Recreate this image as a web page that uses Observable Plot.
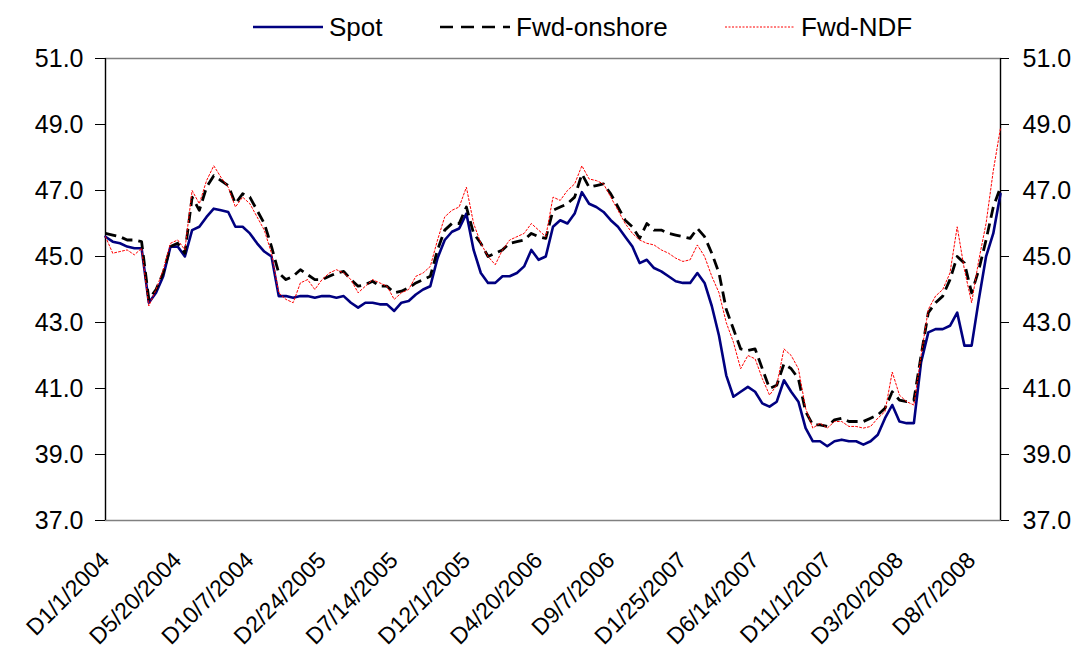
<!DOCTYPE html>
<html>
<head>
<meta charset="utf-8">
<script src="https://cdn.jsdelivr.net/npm/d3@7"></script>
<script src="https://cdn.jsdelivr.net/npm/@observablehq/plot@0.6"></script>
<style>
  body { margin: 0; background: #fff; font-family: "Liberation Sans", Arial, sans-serif; }
  #wrap { position: relative; width: 1080px; height: 659px; }
  #legend { position: relative; height: 40px; font-size: 26px; color: #000; }
  .item { position: absolute; top: 13px; display: flex; align-items: center; gap: 6px; line-height: 28px; }
  .item svg { display: block; }
</style>
</head>
<body>
<div id="wrap">
  <div id="legend"></div>
  <div id="chart"></div>
</div>
<script>
// ---- data (biweekly samples, starting 1 Jan 2004) ----
const startDate = "2004-01-01";
const stepDays = 14;

const spot = [
  45.6, 45.45, 45.4, 45.3, 45.25, 45.25, 43.6, 43.9, 44.4, 45.3,
  45.3, 45.0, 45.8, 45.9, 46.2, 46.45, 46.4, 46.35, 45.9, 45.9,
  45.7, 45.4, 45.15, 45.0, 43.8, 43.8, 43.75, 43.8, 43.8, 43.75,
  43.8, 43.8, 43.75, 43.8, 43.6, 43.45, 43.6, 43.6, 43.55, 43.55,
  43.35, 43.6, 43.65, 43.85, 44.0, 44.1, 44.95, 45.5, 45.75, 45.85,
  46.3, 45.2, 44.5, 44.2, 44.2, 44.4, 44.4, 44.5, 44.7, 45.2,
  44.9, 45.0, 45.9, 46.1, 46.0, 46.3, 46.95, 46.6, 46.5, 46.35,
  46.1, 45.9, 45.6, 45.3, 44.8, 44.9, 44.65, 44.55, 44.4, 44.25,
  44.2, 44.2, 44.5, 44.2, 43.5, 42.6, 41.4, 40.75, 40.9, 41.05,
  40.9, 40.55, 40.45, 40.6, 41.25, 40.9, 40.6, 39.8, 39.4, 39.4,
  39.25, 39.4, 39.45, 39.4, 39.4, 39.3, 39.4, 39.6, 40.1, 40.5,
  40.0, 39.95, 39.95, 41.8, 42.7, 42.8, 42.8, 42.9, 43.3, 42.3,
  42.3, 43.7, 45.0, 45.7, 46.9
];

const fwdOnshore = [
  45.7, 45.65, 45.6, 45.5, 45.5, 45.45, 43.7, 44.0, 44.5, 45.3,
  45.4, 45.1, 46.8, 46.4, 47.1, 47.45, 47.3, 47.15, 46.6, 46.9,
  46.8, 46.4, 46.0, 45.3, 44.5, 44.3, 44.4, 44.6, 44.45, 44.3,
  44.3, 44.4, 44.5, 44.55, 44.3, 44.1, 44.15, 44.25, 44.1, 44.1,
  43.9, 43.95, 44.05, 44.2, 44.3, 44.4, 45.2, 45.8, 46.0, 46.0,
  46.5, 45.7, 45.4, 45.0, 45.1, 45.2, 45.4, 45.45, 45.5, 45.7,
  45.6, 45.55, 46.4, 46.5, 46.6, 46.8, 47.5, 47.1, 47.15, 47.2,
  46.9, 46.5, 46.1, 45.9, 45.55, 46.0, 45.8, 45.8, 45.7, 45.65,
  45.6, 45.55, 45.85, 45.6, 45.1, 44.5, 43.4, 42.8, 42.2, 42.15,
  42.2, 41.6, 41.0, 41.1, 41.75, 41.6, 41.3, 40.3, 39.9, 39.9,
  39.85, 40.05, 40.1, 40.0, 40.0, 40.0, 40.1, 40.2, 40.4, 40.9,
  40.65, 40.6, 40.65, 42.0, 43.3, 43.6, 43.8, 44.3, 45.0, 44.8,
  43.9, 44.6, 45.5, 46.5, 47.1
];

const fwdNDF = [
  45.6, 45.1, 45.15, 45.2, 45.05, 45.25, 43.5, 44.0, 44.6, 45.4,
  45.5, 45.2, 47.0, 46.6, 47.3, 47.75, 47.4, 47.1, 46.5, 46.8,
  46.6, 46.2, 45.8, 45.1, 43.9, 43.7, 43.6, 44.2, 44.3, 44.0,
  44.3, 44.5, 44.6, 44.5, 44.3, 43.9, 44.1, 44.3, 44.2, 44.1,
  43.7, 43.9, 44.0, 44.4, 44.5, 44.7, 45.5, 46.2, 46.4, 46.5,
  47.1, 46.0, 45.4, 45.0, 44.75, 45.2, 45.5, 45.6, 45.7, 46.0,
  45.8, 45.6, 46.8, 46.7, 47.0, 47.2, 47.75, 47.35, 47.3, 47.2,
  46.8, 46.4, 46.0, 45.7, 45.5, 45.4, 45.35, 45.2, 45.1, 44.95,
  44.85, 44.9, 45.35, 45.0, 44.4, 43.9, 43.0, 42.4, 41.6, 42.0,
  41.9, 41.3, 40.8, 41.1, 42.2, 42.0, 41.6, 40.4, 39.8, 39.95,
  39.8, 40.0, 40.0, 39.85, 39.85, 39.8, 39.85, 40.1, 40.3, 41.5,
  40.8, 40.6, 40.5, 42.0, 43.4, 43.8, 44.0, 44.5, 45.9, 44.6,
  43.6, 44.9, 46.0, 47.6, 48.9
];

const seriesNames = ["Spot", "Fwd-onshore", "Fwd-NDF"];
const seriesColors = ["#000080", "#000000", "#ff0000"];
const seriesWidths = [2.6, 2.8, 1];
const seriesDash = [null, "11,6", "2,2"];

const tickLabels = [
  "D1/1/2004", "D5/20/2004", "D10/7/2004", "D2/24/2005", "D7/14/2005",
  "D12/1/2005", "D4/20/2006", "D9/7/2006", "D1/25/2007", "D6/14/2007",
  "D11/1/2007", "D3/20/2008", "D8/7/2008"
];
const yTicks = [37, 39, 41, 43, 45, 47, 49, 51];

// ---- build tables ----
const start = d3.utcParse("%Y-%m-%d")(startDate);
const dates = spot.map((_, i) => d3.utcDay.offset(start, stepDays * i));
const allSeries = [spot, fwdOnshore, fwdNDF];
const rows = allSeries.map((vals, s) => vals.map((v, i) => ({date: dates[i], value: v, series: seriesNames[s]})));

const parseTick = d3.utcParse("D%m/%d/%Y");
const tickDates = tickLabels.map(parseTick);
const labelByTime = new Map(tickDates.map((d, i) => [+d, tickLabels[i]]));

// ---- legend ----
const legend = document.getElementById("legend");
const legendLeft = [253, 440, 725];
seriesNames.forEach((name, s) => {
  const item = document.createElement("div");
  item.className = "item";
  item.style.left = legendLeft[s] + "px";
  const dash = seriesDash[s] ? ` stroke-dasharray="${s === 1 ? '13,8' : '2,1.5'}"` : "";
  item.innerHTML = `<svg width="70" height="10"><line x1="0" x2="70" y1="5" y2="5" stroke="${seriesColors[s]}" stroke-width="${s === 2 ? 1 : 2.4}"${dash}/></svg><span>${name}</span>`;
  legend.appendChild(item);
});

// ---- chart ----
const font = "Liberation Sans, Arial, sans-serif";
const lineMarks = rows.map((data, s) => Plot.line(data, {
  x: "date", y: "value",
  stroke: seriesColors[s], strokeWidth: seriesWidths[s],
  strokeDasharray: seriesDash[s] || undefined,
  strokeLinejoin: "round", strokeLinecap: s === 1 ? "butt" : "round"
}));

const chart = Plot.plot({
  width: 1080,
  height: 619,
  marginTop: 18,
  marginLeft: 105,
  marginRight: 80,
  marginBottom: 139,
  style: {fontFamily: font, background: "#fff", color: "#000"},
  x: {type: "utc", domain: [dates[0], dates[dates.length - 1]]},
  y: {domain: [37, 51]},
  marks: [
    Plot.frame({stroke: "#808080", strokeWidth: 1.5}),
    Plot.ruleX([dates[0], dates[dates.length - 1]], {stroke: "#000", strokeWidth: 1.2}),
    Plot.axisY({anchor: "left", ticks: yTicks, tickFormat: d3.format(".1f"), tickSize: 10, tickPadding: 12, fontSize: 25, label: null, stroke: "#000"}),
    Plot.axisY({anchor: "right", ticks: yTicks, tickFormat: d3.format(".1f"), tickSize: 8, tickPadding: 14, fontSize: 25, label: null, stroke: "#000"}),
    Plot.axisX({ticks: tickDates, tickFormat: d => labelByTime.get(+d), tickRotate: -45, tickSize: 0, tickPadding: 36, fontSize: 23, label: null}),
    ...lineMarks
  ]
});
document.getElementById("chart").appendChild(chart);
</script>
</body>
</html>
